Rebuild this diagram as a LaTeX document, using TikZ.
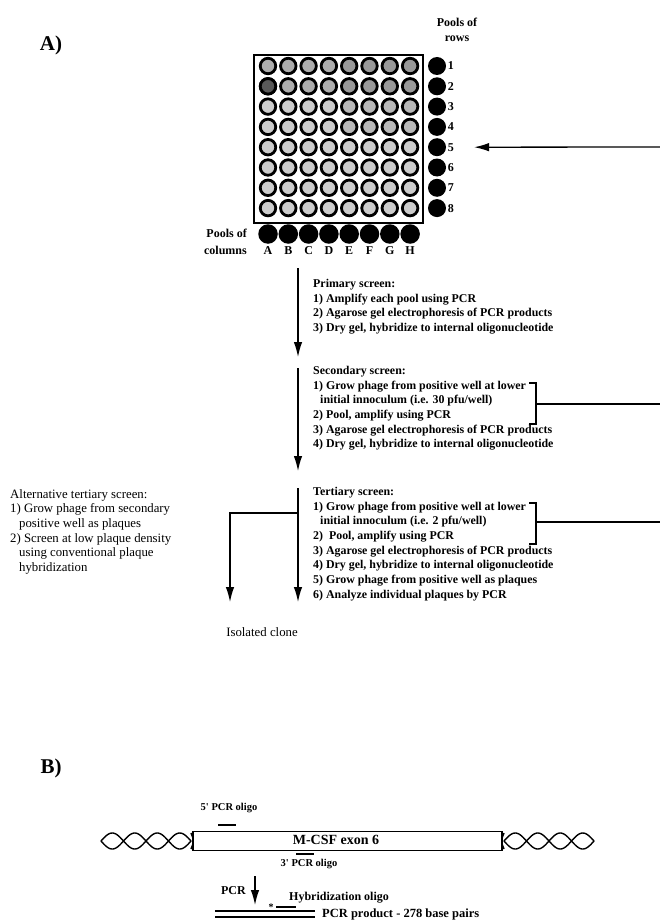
\documentclass[tikz,border=0pt]{standalone}
\usepackage{fontspec}
\setmainfont{Liberation Serif}
\usepackage{tikz}
\usetikzlibrary{arrows.meta,positioning,calc}

\begin{document}
\begin{tikzpicture}[x=1pt,y=-1pt,
        panel/.style={font=\fontsize{21}{22}\selectfont\bfseries, inner sep=0pt},
        steps/.style={anchor=north west, align=left, inner sep=0pt, font=\fontsize{11.9}{14.7}\selectfont\bfseries},
        alttext/.style={anchor=north west, align=left, inner sep=0pt, font=\fontsize{12.8}{14.7}\selectfont},
        small/.style={inner sep=0pt, font=\fontsize{12}{13}\selectfont\bfseries},
        well/.style={circle, draw=black, line width=2.8pt, minimum size=15.5pt, inner sep=0pt},
        pool/.style={circle, fill=black, minimum size=18pt, inner sep=0pt},
        arr/.style={-{Latex[length=15pt,width=8.5pt]}, line width=1.3pt},
        brk/.style={line width=1.3pt},
      ]
      \useasboundingbox (0,0) rectangle (660,923);
      % panel A
      \node [panel] (lblA) at (51,45) {A)};
      \node [draw=black, line width=1.8pt, minimum width=169pt, minimum height=168pt, inner sep=0pt] (plate) at (338.5,139) {};
      \foreach \r in {1,...,8} {
        \foreach \c in {1,...,8} {
          \pgfmathsetmacro\shade{int(20+12*(\r<3)+8*(\c>4)*(\r<5))}
          \node [well, fill=black!\shade] (w\r\c) at ({268+20.3*(\c-1)},{66+20.3*(\r-1)}) {};
        }
        \node [pool] (row\r) at (437,{66+20.3*(\r-1)}) {};
        \node [small, right=1.5pt of row\r] (rn\r) {\r};
      }
      \node [well, fill=black!65] at (w21) {};
      \foreach \c/\l in {1/A,2/B,3/C,4/D,5/E,6/F,7/G,8/H} {
        \node [pool, minimum size=19.5pt] (col\c) at ({268+20.3*(\c-1)},234) {};
        \node [small, below=2pt of col\c] (cl\c) {\l};
      }
      \node [small, align=center, font=\fontsize{12}{15.5}\selectfont\bfseries] (rowsLbl) at (457,30) {Pools of\\rows};
      \node [small, align=right, anchor=east, font=\fontsize{12}{17}\selectfont\bfseries] (colsLbl) at (247,242) {Pools of\\columns};
      \coordinate (fromRight) at (660,147);
      \draw [arr] (fromRight) -- ([xshift=20pt]rn5.east);

      % screens
      \node [steps] (prim) at (313,279) {Primary screen:\\1) Amplify each pool using PCR\\2) Agarose gel electrophoresis of PCR products\\3) Dry gel, hybridize to internal oligonucleotide};
      \node [steps] (sec) at (313,366) {Secondary screen:\\1) Grow phage from positive well at lower\\\hspace*{7pt}initial innoculum (i.e. 30 pfu/well)\\2) Pool, amplify using PCR\\3) Agarose gel electrophoresis of PCR products\\4) Dry gel, hybridize to internal oligonucleotide};
      \node [steps] (ter) at (313,487) {Tertiary screen:\\1) Grow phage from positive well at lower\\\hspace*{7pt}initial innoculum (i.e. 2 pfu/well)\\2)\ \ Pool, amplify using PCR\\3) Agarose gel electrophoresis of PCR products\\4) Dry gel, hybridize to internal oligonucleotide\\5) Grow phage from positive well as plaques\\6) Analyze individual plaques by PCR};
      \node [alttext] (alt) at (10,489) {Alternative tertiary screen:\\1) Grow phage from secondary\\\hspace*{9pt}positive well as plaques\\2) Screen at low plaque density\\\hspace*{9pt}using conventional plaque\\\hspace*{9pt}hybridization};
      \node [alttext, anchor=center] (clone) at (262,632) {Isolated clone};

      \draw [arr] (298,268) -- (298,357);
      \draw [arr] (298,368) -- (298,471);
      \draw [arr] (298,488) -- (298,602);
      \coordinate (branch) at (298,513);
      \coordinate (altDown) at (230,513);
      \draw [arr] (branch) -- (altDown) -- (230,602);

      % brackets
      \draw [brk] (529,383) -- (536,383) -- (536,424) -- (529,424);
      \draw [brk] (536,404) -- (660,404);
      \draw [brk] (529,503) -- (536,503) -- (536,544) -- (529,544);
      \draw [brk] (536,522) -- (660,522);

      % panel B
      \node [panel] (lblB) at (51,768) {B)};
      \node [draw=black, line width=1.5pt, minimum width=309pt, minimum height=19pt, inner sep=0pt] (exon) at (347.5,841) {};
      \node [small, font=\fontsize{14}{15}\selectfont\bfseries] (exonLbl) at (336,840) {M-CSF exon 6};
      \foreach \a/\b in {101/191,504/594} {
        \draw [line width=1.4pt, domain=\a:\b, samples=90] plot (\x,{841-8*sin(180*(\x-\a)/22.5)});
        \draw [line width=1.4pt, domain=\a:\b, samples=90] plot (\x,{841+8*sin(180*(\x-\a)/22.5)});
      }
      \draw [line width=1.4pt] (191,833) .. controls (193,838) .. (193,841) .. controls (193,844) .. (191,849);
      \draw [line width=1.4pt] (504,833) .. controls (502,838) .. (502,841) .. controls (502,844) .. (504,849);
      \node [small, font=\fontsize{10.5}{12}\selectfont\bfseries] (oligo5) at (229,808) {5\textquotesingle\ PCR oligo};
      \draw [line width=1.6pt] (218,825) -- (236,825);
      \draw [line width=1.6pt] (296,854) -- (314,854);
      \node [small, font=\fontsize{10.5}{12}\selectfont\bfseries] (oligo3) at (309,864) {3\textquotesingle\ PCR oligo};
      \draw [arr] (255,876) -- (255,905);
      \node [small, anchor=east] (pcr) at (246,891) {PCR};
      \node [small, anchor=west] (hyb) at (289,898) {Hybridization oligo};
      \node [font=\fontsize{10}{10}\selectfont\bfseries, inner sep=0pt] (star) at (271,907) {*};
      \draw [line width=1.3pt] (276,907) -- (296,907);
      \draw [line width=1.4pt] (215,911) -- (315,911);
      \draw [line width=1.4pt] (215,917) -- (315,917);
      \node [small, anchor=west, font=\fontsize{12.5}{13}\selectfont\bfseries] (prod) at (322,914) {PCR product - 278 base pairs};
    \end{tikzpicture}
\end{document}
